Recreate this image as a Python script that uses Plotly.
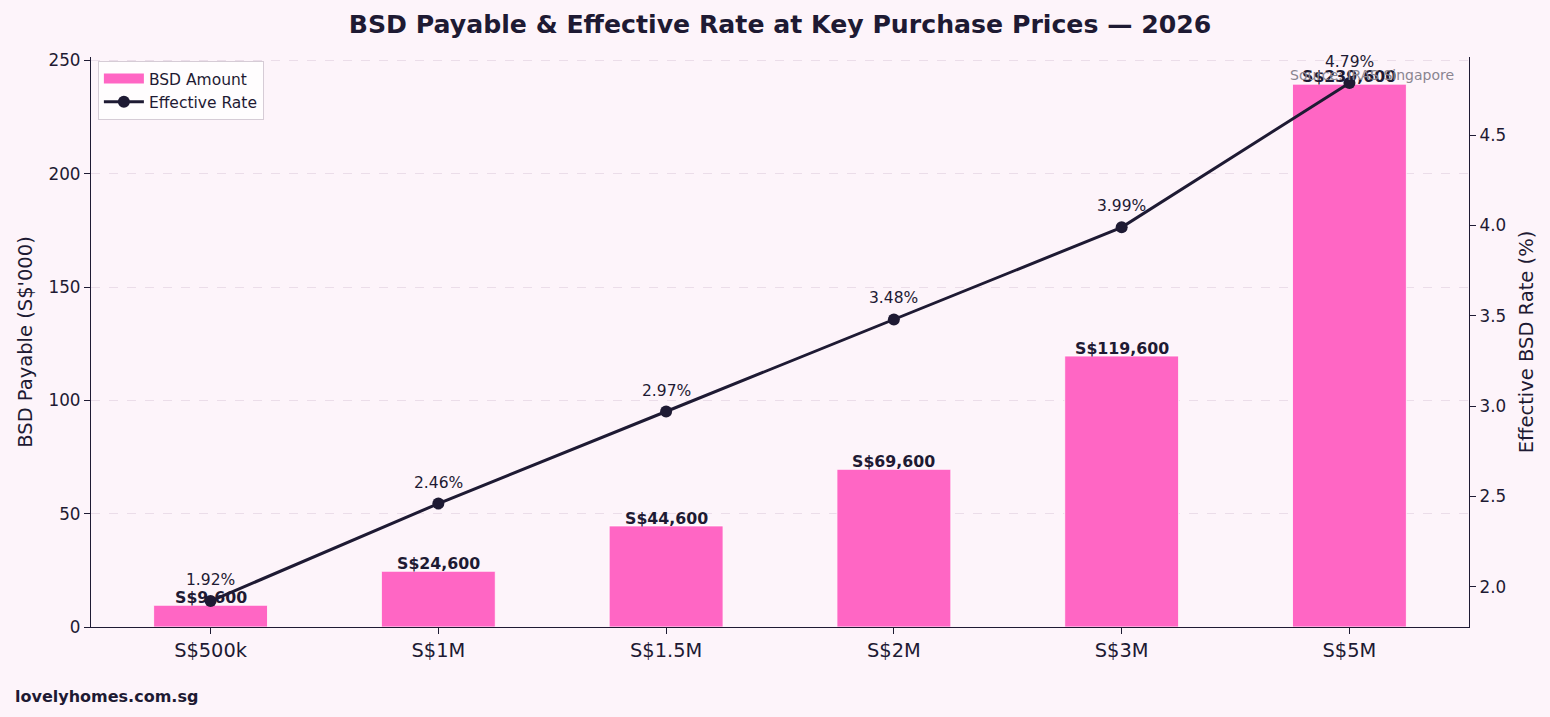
import plotly.graph_objects as go

categories = ["S$500k", "S$1M", "S$1.5M", "S$2M", "S$3M", "S$5M"]
bsd_thousands = [9.6, 24.6, 44.6, 69.6, 119.6, 239.6]
bsd_labels = ["S$9,600", "S$24,600", "S$44,600", "S$69,600", "S$119,600", "S$239,600"]
eff_rate = [1.92, 2.46, 2.97, 3.48, 3.99, 4.79]
rate_labels = ["1.92%", "2.46%", "2.97%", "3.48%", "3.99%", "4.79%"]

BG = "#fdf4fa"
INK = "#1e1a33"
PINK = "#ff66c4"
FONT = "DejaVu Sans"

W, H = 1550, 717
ml, mr, mt, mb = 91, 81, 57, 90
pw, ph = W - ml - mr, H - mt - mb

xs = list(range(len(categories)))

fig = go.Figure()
fig.add_trace(go.Bar(
    x=xs, y=bsd_thousands, name="BSD Amount", showlegend=False,
    marker=dict(color=PINK, line=dict(color="#ffffff", width=0.8)),
    width=0.5, yaxis="y", hoverinfo="skip",
))
# legend swatch for the bars (wide rectangle like the reference)
fig.add_trace(go.Scatter(
    x=[None], y=[None], name="BSD Amount", mode="lines",
    line=dict(color=PINK, width=10), yaxis="y", hoverinfo="skip",
))
fig.add_trace(go.Scatter(
    x=xs, y=eff_rate, name="Effective Rate",
    mode="lines+markers", yaxis="y2",
    line=dict(color=INK, width=3), marker=dict(color=INK, size=12),
    hoverinfo="skip",
))

annotations = []
for i, (v, lab) in enumerate(zip(bsd_thousands, bsd_labels)):
    annotations.append(dict(x=i, y=v, xref="x", yref="y", text=f"<b>{lab}</b>",
                            showarrow=False, yanchor="bottom", yshift=-4,
                            font=dict(family=FONT, size=15.8, color=INK)))
for i, (r, lab) in enumerate(zip(eff_rate, rate_labels)):
    annotations.append(dict(x=i, y=r, xref="x", yref="y2", text=lab,
                            showarrow=False, yanchor="bottom", yshift=10,
                            font=dict(family=FONT, size=15.5, color=INK)))
annotations.append(dict(x=1456, y=75, text="Source: IRAS Singapore", showarrow=False,
                        xanchor="right", yanchor="middle",
                        font=dict(family=FONT, size=14, color="#8a8590")))
annotations.append(dict(x=13, y=696, text="<b>lovelyhomes.com.sg</b>",
                        showarrow=False, xanchor="left", yanchor="middle",
                        font=dict(family=FONT, size=16, color=INK)))
# convert pixel positions of the two free texts to paper coordinates
for a in annotations[-2:]:
    px, py = a["x"], a["y"]
    a.update(xref="paper", yref="paper", x=(px - ml) / pw, y=(H - py - mb) / ph)

fig.update_layout(
    width=W, height=H,
    margin=dict(l=ml, r=mr, t=mt, b=mb),
    paper_bgcolor=BG, plot_bgcolor=BG,
    font=dict(family=FONT, color=INK, size=14),
    title=dict(text="<b>BSD Payable & Effective Rate at Key Purchase Prices — 2026</b>",
               x=0.5, xref="paper", y=1 - 24 / H, yanchor="middle",
               font=dict(family=FONT, size=25.2, color=INK)),
    xaxis=dict(tickmode="array", tickvals=xs, ticktext=categories,
               range=[-0.525, 5.525], showgrid=False, zeroline=False,
               showline=True, linecolor=INK, linewidth=1.3,
               ticks="outside", ticklen=6, tickcolor=INK,
               tickfont=dict(family=FONT, size=19.4, color=INK)),
    yaxis=dict(range=[0, 251.58], tickvals=[0, 50, 100, 150, 200, 250],
               showgrid=True, gridcolor="#ebdde9", griddash="dash", gridwidth=1,
               zeroline=False, showline=True, linecolor=INK, linewidth=1.3,
               ticks="outside", ticklen=6, tickcolor=INK,
               tickfont=dict(family=FONT, size=16.8, color=INK),
               title=dict(text="BSD Payable (S$'000)", standoff=10,
                          font=dict(family=FONT, size=19.5, color=INK))),
    yaxis2=dict(range=[1.7765, 4.9335], overlaying="y", side="right",
                tickvals=[2.0, 2.5, 3.0, 3.5, 4.0, 4.5], ticktext=["2.0", "2.5", "3.0", "3.5", "4.0", "4.5"],
                showgrid=False, zeroline=False, showline=True, linecolor=INK, linewidth=1.3,
                ticks="outside", ticklen=6, tickcolor=INK,
                tickfont=dict(family=FONT, size=16.8, color=INK),
                title=dict(text="Effective BSD Rate (%)", standoff=14,
                           font=dict(family=FONT, size=19.5, color=INK))),
    legend=dict(x=0.005, y=0.993, xanchor="left", yanchor="top",
                bgcolor="rgba(255,255,255,0.8)", bordercolor="#d6ccd6", borderwidth=1,
                font=dict(family=FONT, size=15.5, color=INK), tracegroupgap=0,
                itemwidth=40),
    annotations=annotations,
    showlegend=True,
)

fig.write_html("out.html")
